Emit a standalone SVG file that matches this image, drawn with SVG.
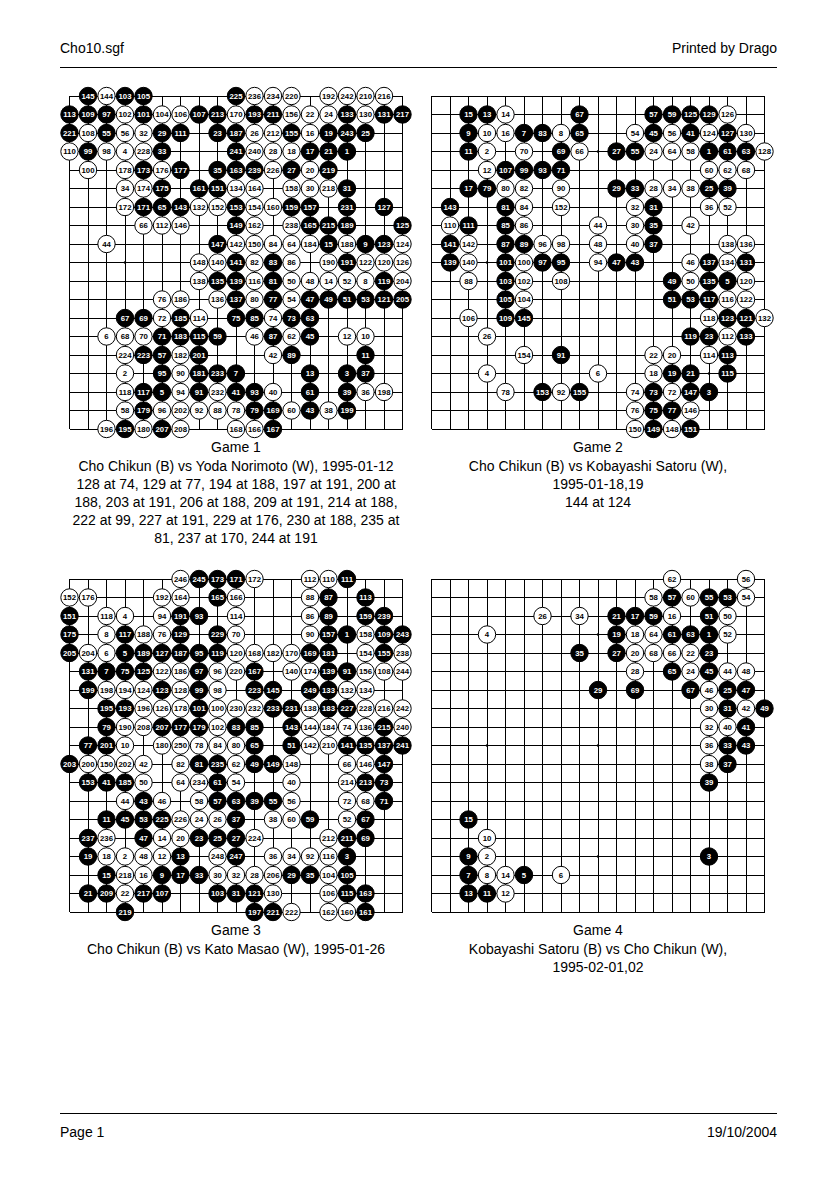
<svg xmlns="http://www.w3.org/2000/svg" width="837" height="1181" viewBox="0 0 837 1181">
<style>
.t{font-family:"Liberation Sans",Arial,sans-serif;font-size:14px;fill:#000}
.m{text-anchor:middle}
.e{text-anchor:end}
.rule{stroke:#000;stroke-width:1;shape-rendering:crispEdges}
.g{fill:none;stroke:#000;stroke-width:1;shape-rendering:crispEdges}
.hs{fill:#000}
.st circle{stroke:#000;stroke-width:1}
.st circle.w{fill:#fff}
.st circle.k{fill:#000}
.st text{font-family:"Liberation Sans",Arial,sans-serif;font-size:7.8px;font-weight:bold;text-anchor:middle;dominant-baseline:central;fill:#000}
.st .k+text{fill:#fff}
</style>
<defs>
<path id="grid" class="g" d="M0 0V333M18.5 0V333M37 0V333M55.5 0V333M74 0V333M92.5 0V333M111 0V333M129.5 0V333M148 0V333M166.5 0V333M185 0V333M203.5 0V333M222 0V333M240.5 0V333M259 0V333M277.5 0V333M296 0V333M314.5 0V333M333 0V333M0 0H333M0 18.5H333M0 37H333M0 55.5H333M0 74H333M0 92.5H333M0 111H333M0 129.5H333M0 148H333M0 166.5H333M0 185H333M0 203.5H333M0 222H333M0 240.5H333M0 259H333M0 277.5H333M0 296H333M0 314.5H333M0 333H333"/>
<g id="hoshi" class="hs"><circle cx="55.5" cy="55.5" r="1.3"/><circle cx="166.5" cy="55.5" r="1.3"/><circle cx="277.5" cy="55.5" r="1.3"/><circle cx="55.5" cy="166.5" r="1.3"/><circle cx="166.5" cy="166.5" r="1.3"/><circle cx="277.5" cy="166.5" r="1.3"/><circle cx="55.5" cy="277.5" r="1.3"/><circle cx="166.5" cy="277.5" r="1.3"/><circle cx="277.5" cy="277.5" r="1.3"/></g>
</defs>

<g id="header">
<text class="t" x="60" y="53">Cho10.sgf</text>
<text class="t e" x="777" y="53">Printed by Drago</text>
<line class="rule" x1="60" y1="67.5" x2="777" y2="67.5"/>
</g>

<g id="game1" transform="translate(69.5,96)">
<use href="#grid"/><use href="#hoshi"/>
<g class="st">
<g transform="translate(0,0)"><circle class="k" cx="18.5" r="8.7"/><text x="18.5">145</text><circle class="w" cx="37" r="8.7"/><text x="37">144</text><circle class="k" cx="55.5" r="8.7"/><text x="55.5">103</text><circle class="k" cx="74" r="8.7"/><text x="74">105</text><circle class="k" cx="166.5" r="8.7"/><text x="166.5">225</text><circle class="w" cx="185" r="8.7"/><text x="185">236</text><circle class="w" cx="203.5" r="8.7"/><text x="203.5">234</text><circle class="w" cx="222" r="8.7"/><text x="222">220</text><circle class="w" cx="259" r="8.7"/><text x="259">192</text><circle class="w" cx="277.5" r="8.7"/><text x="277.5">242</text><circle class="w" cx="296" r="8.7"/><text x="296">210</text><circle class="w" cx="314.5" r="8.7"/><text x="314.5">216</text></g>
<g transform="translate(0,18.5)"><circle class="k" cx="0" r="8.7"/><text x="0">113</text><circle class="k" cx="18.5" r="8.7"/><text x="18.5">109</text><circle class="k" cx="37" r="8.7"/><text x="37">97</text><circle class="w" cx="55.5" r="8.7"/><text x="55.5">102</text><circle class="k" cx="74" r="8.7"/><text x="74">101</text><circle class="w" cx="92.5" r="8.7"/><text x="92.5">104</text><circle class="w" cx="111" r="8.7"/><text x="111">106</text><circle class="k" cx="129.5" r="8.7"/><text x="129.5">107</text><circle class="k" cx="148" r="8.7"/><text x="148">213</text><circle class="w" cx="166.5" r="8.7"/><text x="166.5">170</text><circle class="k" cx="185" r="8.7"/><text x="185">193</text><circle class="k" cx="203.5" r="8.7"/><text x="203.5">211</text><circle class="w" cx="222" r="8.7"/><text x="222">156</text><circle class="w" cx="240.5" r="8.7"/><text x="240.5">22</text><circle class="w" cx="259" r="8.7"/><text x="259">24</text><circle class="k" cx="277.5" r="8.7"/><text x="277.5">133</text><circle class="w" cx="296" r="8.7"/><text x="296">130</text><circle class="k" cx="314.5" r="8.7"/><text x="314.5">131</text><circle class="k" cx="333" r="8.7"/><text x="333">217</text></g>
<g transform="translate(0,37)"><circle class="k" cx="0" r="8.7"/><text x="0">221</text><circle class="w" cx="18.5" r="8.7"/><text x="18.5">108</text><circle class="k" cx="37" r="8.7"/><text x="37">55</text><circle class="w" cx="55.5" r="8.7"/><text x="55.5">56</text><circle class="w" cx="74" r="8.7"/><text x="74">32</text><circle class="k" cx="92.5" r="8.7"/><text x="92.5">29</text><circle class="k" cx="111" r="8.7"/><text x="111">111</text><circle class="k" cx="148" r="8.7"/><text x="148">23</text><circle class="k" cx="166.5" r="8.7"/><text x="166.5">187</text><circle class="w" cx="185" r="8.7"/><text x="185">26</text><circle class="w" cx="203.5" r="8.7"/><text x="203.5">212</text><circle class="k" cx="222" r="8.7"/><text x="222">155</text><circle class="w" cx="240.5" r="8.7"/><text x="240.5">16</text><circle class="k" cx="259" r="8.7"/><text x="259">19</text><circle class="k" cx="277.5" r="8.7"/><text x="277.5">243</text><circle class="k" cx="296" r="8.7"/><text x="296">25</text></g>
<g transform="translate(0,55.5)"><circle class="w" cx="0" r="8.7"/><text x="0">110</text><circle class="k" cx="18.5" r="8.7"/><text x="18.5">99</text><circle class="w" cx="37" r="8.7"/><text x="37">98</text><circle class="w" cx="55.5" r="8.7"/><text x="55.5">4</text><circle class="w" cx="74" r="8.7"/><text x="74">228</text><circle class="k" cx="92.5" r="8.7"/><text x="92.5">33</text><circle class="k" cx="166.5" r="8.7"/><text x="166.5">241</text><circle class="w" cx="185" r="8.7"/><text x="185">240</text><circle class="w" cx="203.5" r="8.7"/><text x="203.5">28</text><circle class="w" cx="222" r="8.7"/><text x="222">18</text><circle class="k" cx="240.5" r="8.7"/><text x="240.5">17</text><circle class="k" cx="259" r="8.7"/><text x="259">21</text><circle class="k" cx="277.5" r="8.7"/><text x="277.5">1</text></g>
<g transform="translate(0,74)"><circle class="w" cx="18.5" r="8.7"/><text x="18.5">100</text><circle class="w" cx="55.5" r="8.7"/><text x="55.5">178</text><circle class="k" cx="74" r="8.7"/><text x="74">173</text><circle class="w" cx="92.5" r="8.7"/><text x="92.5">176</text><circle class="k" cx="111" r="8.7"/><text x="111">177</text><circle class="k" cx="148" r="8.7"/><text x="148">35</text><circle class="k" cx="166.5" r="8.7"/><text x="166.5">163</text><circle class="k" cx="185" r="8.7"/><text x="185">239</text><circle class="w" cx="203.5" r="8.7"/><text x="203.5">226</text><circle class="k" cx="222" r="8.7"/><text x="222">27</text><circle class="w" cx="240.5" r="8.7"/><text x="240.5">20</text><circle class="k" cx="259" r="8.7"/><text x="259">219</text></g>
<g transform="translate(0,92.5)"><circle class="w" cx="55.5" r="8.7"/><text x="55.5">34</text><circle class="w" cx="74" r="8.7"/><text x="74">174</text><circle class="k" cx="92.5" r="8.7"/><text x="92.5">175</text><circle class="k" cx="129.5" r="8.7"/><text x="129.5">161</text><circle class="k" cx="148" r="8.7"/><text x="148">151</text><circle class="w" cx="166.5" r="8.7"/><text x="166.5">134</text><circle class="w" cx="185" r="8.7"/><text x="185">164</text><circle class="w" cx="222" r="8.7"/><text x="222">158</text><circle class="w" cx="240.5" r="8.7"/><text x="240.5">30</text><circle class="w" cx="259" r="8.7"/><text x="259">218</text><circle class="k" cx="277.5" r="8.7"/><text x="277.5">31</text></g>
<g transform="translate(0,111)"><circle class="w" cx="55.5" r="8.7"/><text x="55.5">172</text><circle class="k" cx="74" r="8.7"/><text x="74">171</text><circle class="k" cx="92.5" r="8.7"/><text x="92.5">65</text><circle class="k" cx="111" r="8.7"/><text x="111">143</text><circle class="w" cx="129.5" r="8.7"/><text x="129.5">132</text><circle class="w" cx="148" r="8.7"/><text x="148">152</text><circle class="k" cx="166.5" r="8.7"/><text x="166.5">153</text><circle class="w" cx="185" r="8.7"/><text x="185">154</text><circle class="w" cx="203.5" r="8.7"/><text x="203.5">160</text><circle class="k" cx="222" r="8.7"/><text x="222">159</text><circle class="k" cx="240.5" r="8.7"/><text x="240.5">157</text><circle class="k" cx="277.5" r="8.7"/><text x="277.5">231</text><circle class="k" cx="314.5" r="8.7"/><text x="314.5">127</text></g>
<g transform="translate(0,129.5)"><circle class="w" cx="74" r="8.7"/><text x="74">66</text><circle class="w" cx="92.5" r="8.7"/><text x="92.5">112</text><circle class="w" cx="111" r="8.7"/><text x="111">146</text><circle class="k" cx="166.5" r="8.7"/><text x="166.5">149</text><circle class="w" cx="185" r="8.7"/><text x="185">162</text><circle class="w" cx="222" r="8.7"/><text x="222">238</text><circle class="k" cx="240.5" r="8.7"/><text x="240.5">165</text><circle class="k" cx="259" r="8.7"/><text x="259">215</text><circle class="k" cx="277.5" r="8.7"/><text x="277.5">189</text><circle class="k" cx="333" r="8.7"/><text x="333">125</text></g>
<g transform="translate(0,148)"><circle class="w" cx="37" r="8.7"/><text x="37">44</text><circle class="k" cx="148" r="8.7"/><text x="148">147</text><circle class="w" cx="166.5" r="8.7"/><text x="166.5">142</text><circle class="w" cx="185" r="8.7"/><text x="185">150</text><circle class="w" cx="203.5" r="8.7"/><text x="203.5">84</text><circle class="w" cx="222" r="8.7"/><text x="222">64</text><circle class="w" cx="240.5" r="8.7"/><text x="240.5">184</text><circle class="k" cx="259" r="8.7"/><text x="259">15</text><circle class="w" cx="277.5" r="8.7"/><text x="277.5">188</text><circle class="k" cx="296" r="8.7"/><text x="296">9</text><circle class="k" cx="314.5" r="8.7"/><text x="314.5">123</text><circle class="w" cx="333" r="8.7"/><text x="333">124</text></g>
<g transform="translate(0,166.5)"><circle class="w" cx="129.5" r="8.7"/><text x="129.5">148</text><circle class="w" cx="148" r="8.7"/><text x="148">140</text><circle class="k" cx="166.5" r="8.7"/><text x="166.5">141</text><circle class="w" cx="185" r="8.7"/><text x="185">82</text><circle class="k" cx="203.5" r="8.7"/><text x="203.5">83</text><circle class="w" cx="222" r="8.7"/><text x="222">86</text><circle class="w" cx="259" r="8.7"/><text x="259">190</text><circle class="k" cx="277.5" r="8.7"/><text x="277.5">191</text><circle class="w" cx="296" r="8.7"/><text x="296">122</text><circle class="w" cx="314.5" r="8.7"/><text x="314.5">120</text><circle class="w" cx="333" r="8.7"/><text x="333">126</text></g>
<g transform="translate(0,185)"><circle class="w" cx="129.5" r="8.7"/><text x="129.5">138</text><circle class="k" cx="148" r="8.7"/><text x="148">135</text><circle class="k" cx="166.5" r="8.7"/><text x="166.5">139</text><circle class="w" cx="185" r="8.7"/><text x="185">116</text><circle class="k" cx="203.5" r="8.7"/><text x="203.5">81</text><circle class="w" cx="222" r="8.7"/><text x="222">50</text><circle class="w" cx="240.5" r="8.7"/><text x="240.5">48</text><circle class="w" cx="259" r="8.7"/><text x="259">14</text><circle class="w" cx="277.5" r="8.7"/><text x="277.5">52</text><circle class="w" cx="296" r="8.7"/><text x="296">8</text><circle class="k" cx="314.5" r="8.7"/><text x="314.5">119</text><circle class="w" cx="333" r="8.7"/><text x="333">204</text></g>
<g transform="translate(0,203.5)"><circle class="w" cx="92.5" r="8.7"/><text x="92.5">76</text><circle class="w" cx="111" r="8.7"/><text x="111">186</text><circle class="w" cx="148" r="8.7"/><text x="148">136</text><circle class="k" cx="166.5" r="8.7"/><text x="166.5">137</text><circle class="w" cx="185" r="8.7"/><text x="185">80</text><circle class="k" cx="203.5" r="8.7"/><text x="203.5">77</text><circle class="w" cx="222" r="8.7"/><text x="222">54</text><circle class="k" cx="240.5" r="8.7"/><text x="240.5">47</text><circle class="k" cx="259" r="8.7"/><text x="259">49</text><circle class="k" cx="277.5" r="8.7"/><text x="277.5">51</text><circle class="k" cx="296" r="8.7"/><text x="296">53</text><circle class="k" cx="314.5" r="8.7"/><text x="314.5">121</text><circle class="k" cx="333" r="8.7"/><text x="333">205</text></g>
<g transform="translate(0,222)"><circle class="k" cx="55.5" r="8.7"/><text x="55.5">67</text><circle class="k" cx="74" r="8.7"/><text x="74">69</text><circle class="w" cx="92.5" r="8.7"/><text x="92.5">72</text><circle class="k" cx="111" r="8.7"/><text x="111">185</text><circle class="w" cx="129.5" r="8.7"/><text x="129.5">114</text><circle class="k" cx="166.5" r="8.7"/><text x="166.5">75</text><circle class="k" cx="185" r="8.7"/><text x="185">85</text><circle class="w" cx="203.5" r="8.7"/><text x="203.5">74</text><circle class="k" cx="222" r="8.7"/><text x="222">73</text><circle class="k" cx="240.5" r="8.7"/><text x="240.5">63</text></g>
<g transform="translate(0,240.5)"><circle class="w" cx="37" r="8.7"/><text x="37">6</text><circle class="w" cx="55.5" r="8.7"/><text x="55.5">68</text><circle class="w" cx="74" r="8.7"/><text x="74">70</text><circle class="k" cx="92.5" r="8.7"/><text x="92.5">71</text><circle class="k" cx="111" r="8.7"/><text x="111">183</text><circle class="k" cx="129.5" r="8.7"/><text x="129.5">115</text><circle class="k" cx="148" r="8.7"/><text x="148">59</text><circle class="w" cx="185" r="8.7"/><text x="185">46</text><circle class="k" cx="203.5" r="8.7"/><text x="203.5">87</text><circle class="w" cx="222" r="8.7"/><text x="222">62</text><circle class="k" cx="240.5" r="8.7"/><text x="240.5">45</text><circle class="w" cx="277.5" r="8.7"/><text x="277.5">12</text><circle class="w" cx="296" r="8.7"/><text x="296">10</text></g>
<g transform="translate(0,259)"><circle class="w" cx="55.5" r="8.7"/><text x="55.5">224</text><circle class="k" cx="74" r="8.7"/><text x="74">223</text><circle class="k" cx="92.5" r="8.7"/><text x="92.5">57</text><circle class="w" cx="111" r="8.7"/><text x="111">182</text><circle class="k" cx="129.5" r="8.7"/><text x="129.5">201</text><circle class="w" cx="203.5" r="8.7"/><text x="203.5">42</text><circle class="k" cx="222" r="8.7"/><text x="222">89</text><circle class="k" cx="296" r="8.7"/><text x="296">11</text></g>
<g transform="translate(0,277.5)"><circle class="w" cx="55.5" r="8.7"/><text x="55.5">2</text><circle class="k" cx="92.5" r="8.7"/><text x="92.5">95</text><circle class="w" cx="111" r="8.7"/><text x="111">90</text><circle class="k" cx="129.5" r="8.7"/><text x="129.5">181</text><circle class="k" cx="148" r="8.7"/><text x="148">233</text><circle class="k" cx="166.5" r="8.7"/><text x="166.5">7</text><circle class="k" cx="240.5" r="8.7"/><text x="240.5">13</text><circle class="k" cx="277.5" r="8.7"/><text x="277.5">3</text><circle class="k" cx="296" r="8.7"/><text x="296">37</text></g>
<g transform="translate(0,296)"><circle class="w" cx="55.5" r="8.7"/><text x="55.5">118</text><circle class="k" cx="74" r="8.7"/><text x="74">117</text><circle class="k" cx="92.5" r="8.7"/><text x="92.5">5</text><circle class="w" cx="111" r="8.7"/><text x="111">94</text><circle class="k" cx="129.5" r="8.7"/><text x="129.5">91</text><circle class="w" cx="148" r="8.7"/><text x="148">232</text><circle class="k" cx="166.5" r="8.7"/><text x="166.5">41</text><circle class="k" cx="185" r="8.7"/><text x="185">93</text><circle class="w" cx="203.5" r="8.7"/><text x="203.5">40</text><circle class="k" cx="240.5" r="8.7"/><text x="240.5">61</text><circle class="k" cx="277.5" r="8.7"/><text x="277.5">39</text><circle class="w" cx="296" r="8.7"/><text x="296">36</text><circle class="w" cx="314.5" r="8.7"/><text x="314.5">198</text></g>
<g transform="translate(0,314.5)"><circle class="w" cx="55.5" r="8.7"/><text x="55.5">58</text><circle class="k" cx="74" r="8.7"/><text x="74">179</text><circle class="w" cx="92.5" r="8.7"/><text x="92.5">96</text><circle class="w" cx="111" r="8.7"/><text x="111">202</text><circle class="w" cx="129.5" r="8.7"/><text x="129.5">92</text><circle class="w" cx="148" r="8.7"/><text x="148">88</text><circle class="w" cx="166.5" r="8.7"/><text x="166.5">78</text><circle class="k" cx="185" r="8.7"/><text x="185">79</text><circle class="k" cx="203.5" r="8.7"/><text x="203.5">169</text><circle class="w" cx="222" r="8.7"/><text x="222">60</text><circle class="k" cx="240.5" r="8.7"/><text x="240.5">43</text><circle class="w" cx="259" r="8.7"/><text x="259">38</text><circle class="k" cx="277.5" r="8.7"/><text x="277.5">199</text></g>
<g transform="translate(0,333)"><circle class="w" cx="37" r="8.7"/><text x="37">196</text><circle class="k" cx="55.5" r="8.7"/><text x="55.5">195</text><circle class="w" cx="74" r="8.7"/><text x="74">180</text><circle class="k" cx="92.5" r="8.7"/><text x="92.5">207</text><circle class="w" cx="111" r="8.7"/><text x="111">208</text><circle class="w" cx="166.5" r="8.7"/><text x="166.5">168</text><circle class="w" cx="185" r="8.7"/><text x="185">166</text><circle class="k" cx="203.5" r="8.7"/><text x="203.5">167</text></g>
</g>
</g>

<g id="game2" transform="translate(431.5,96)">
<use href="#grid"/><use href="#hoshi"/>
<g class="st">
<g transform="translate(0,18.5)"><circle class="k" cx="37" r="8.7"/><text x="37">15</text><circle class="k" cx="55.5" r="8.7"/><text x="55.5">13</text><circle class="w" cx="74" r="8.7"/><text x="74">14</text><circle class="k" cx="148" r="8.7"/><text x="148">67</text><circle class="k" cx="222" r="8.7"/><text x="222">57</text><circle class="k" cx="240.5" r="8.7"/><text x="240.5">59</text><circle class="k" cx="259" r="8.7"/><text x="259">125</text><circle class="k" cx="277.5" r="8.7"/><text x="277.5">129</text><circle class="w" cx="296" r="8.7"/><text x="296">126</text></g>
<g transform="translate(0,37)"><circle class="k" cx="37" r="8.7"/><text x="37">9</text><circle class="w" cx="55.5" r="8.7"/><text x="55.5">10</text><circle class="w" cx="74" r="8.7"/><text x="74">16</text><circle class="k" cx="92.5" r="8.7"/><text x="92.5">7</text><circle class="k" cx="111" r="8.7"/><text x="111">83</text><circle class="w" cx="129.5" r="8.7"/><text x="129.5">8</text><circle class="k" cx="148" r="8.7"/><text x="148">65</text><circle class="w" cx="203.5" r="8.7"/><text x="203.5">54</text><circle class="k" cx="222" r="8.7"/><text x="222">45</text><circle class="w" cx="240.5" r="8.7"/><text x="240.5">56</text><circle class="k" cx="259" r="8.7"/><text x="259">41</text><circle class="w" cx="277.5" r="8.7"/><text x="277.5">124</text><circle class="k" cx="296" r="8.7"/><text x="296">127</text><circle class="w" cx="314.5" r="8.7"/><text x="314.5">130</text></g>
<g transform="translate(0,55.5)"><circle class="k" cx="37" r="8.7"/><text x="37">11</text><circle class="w" cx="55.5" r="8.7"/><text x="55.5">2</text><circle class="w" cx="92.5" r="8.7"/><text x="92.5">70</text><circle class="k" cx="129.5" r="8.7"/><text x="129.5">69</text><circle class="w" cx="148" r="8.7"/><text x="148">66</text><circle class="k" cx="185" r="8.7"/><text x="185">27</text><circle class="k" cx="203.5" r="8.7"/><text x="203.5">55</text><circle class="w" cx="222" r="8.7"/><text x="222">24</text><circle class="w" cx="240.5" r="8.7"/><text x="240.5">64</text><circle class="w" cx="259" r="8.7"/><text x="259">58</text><circle class="k" cx="277.5" r="8.7"/><text x="277.5">1</text><circle class="k" cx="296" r="8.7"/><text x="296">61</text><circle class="k" cx="314.5" r="8.7"/><text x="314.5">63</text><circle class="w" cx="333" r="8.7"/><text x="333">128</text></g>
<g transform="translate(0,74)"><circle class="w" cx="55.5" r="8.7"/><text x="55.5">12</text><circle class="k" cx="74" r="8.7"/><text x="74">107</text><circle class="k" cx="92.5" r="8.7"/><text x="92.5">99</text><circle class="k" cx="111" r="8.7"/><text x="111">93</text><circle class="k" cx="129.5" r="8.7"/><text x="129.5">71</text><circle class="w" cx="277.5" r="8.7"/><text x="277.5">60</text><circle class="w" cx="296" r="8.7"/><text x="296">62</text><circle class="w" cx="314.5" r="8.7"/><text x="314.5">68</text></g>
<g transform="translate(0,92.5)"><circle class="k" cx="37" r="8.7"/><text x="37">17</text><circle class="k" cx="55.5" r="8.7"/><text x="55.5">79</text><circle class="w" cx="74" r="8.7"/><text x="74">80</text><circle class="w" cx="92.5" r="8.7"/><text x="92.5">82</text><circle class="w" cx="129.5" r="8.7"/><text x="129.5">90</text><circle class="k" cx="185" r="8.7"/><text x="185">29</text><circle class="k" cx="203.5" r="8.7"/><text x="203.5">33</text><circle class="w" cx="222" r="8.7"/><text x="222">28</text><circle class="w" cx="240.5" r="8.7"/><text x="240.5">34</text><circle class="w" cx="259" r="8.7"/><text x="259">38</text><circle class="k" cx="277.5" r="8.7"/><text x="277.5">25</text><circle class="k" cx="296" r="8.7"/><text x="296">39</text></g>
<g transform="translate(0,111)"><circle class="k" cx="18.5" r="8.7"/><text x="18.5">143</text><circle class="k" cx="74" r="8.7"/><text x="74">81</text><circle class="w" cx="92.5" r="8.7"/><text x="92.5">84</text><circle class="w" cx="129.5" r="8.7"/><text x="129.5">152</text><circle class="w" cx="203.5" r="8.7"/><text x="203.5">32</text><circle class="k" cx="222" r="8.7"/><text x="222">31</text><circle class="w" cx="277.5" r="8.7"/><text x="277.5">36</text><circle class="w" cx="296" r="8.7"/><text x="296">52</text></g>
<g transform="translate(0,129.5)"><circle class="w" cx="18.5" r="8.7"/><text x="18.5">110</text><circle class="k" cx="37" r="8.7"/><text x="37">111</text><circle class="k" cx="74" r="8.7"/><text x="74">85</text><circle class="w" cx="92.5" r="8.7"/><text x="92.5">86</text><circle class="w" cx="166.5" r="8.7"/><text x="166.5">44</text><circle class="w" cx="203.5" r="8.7"/><text x="203.5">30</text><circle class="k" cx="222" r="8.7"/><text x="222">35</text><circle class="w" cx="259" r="8.7"/><text x="259">42</text></g>
<g transform="translate(0,148)"><circle class="k" cx="18.5" r="8.7"/><text x="18.5">141</text><circle class="w" cx="37" r="8.7"/><text x="37">142</text><circle class="k" cx="74" r="8.7"/><text x="74">87</text><circle class="k" cx="92.5" r="8.7"/><text x="92.5">89</text><circle class="w" cx="111" r="8.7"/><text x="111">96</text><circle class="w" cx="129.5" r="8.7"/><text x="129.5">98</text><circle class="w" cx="166.5" r="8.7"/><text x="166.5">48</text><circle class="w" cx="203.5" r="8.7"/><text x="203.5">40</text><circle class="k" cx="222" r="8.7"/><text x="222">37</text><circle class="w" cx="296" r="8.7"/><text x="296">138</text><circle class="w" cx="314.5" r="8.7"/><text x="314.5">136</text></g>
<g transform="translate(0,166.5)"><circle class="k" cx="18.5" r="8.7"/><text x="18.5">139</text><circle class="w" cx="37" r="8.7"/><text x="37">140</text><circle class="k" cx="74" r="8.7"/><text x="74">101</text><circle class="w" cx="92.5" r="8.7"/><text x="92.5">100</text><circle class="k" cx="111" r="8.7"/><text x="111">97</text><circle class="k" cx="129.5" r="8.7"/><text x="129.5">95</text><circle class="w" cx="166.5" r="8.7"/><text x="166.5">94</text><circle class="k" cx="185" r="8.7"/><text x="185">47</text><circle class="k" cx="203.5" r="8.7"/><text x="203.5">43</text><circle class="w" cx="259" r="8.7"/><text x="259">46</text><circle class="k" cx="277.5" r="8.7"/><text x="277.5">137</text><circle class="w" cx="296" r="8.7"/><text x="296">134</text><circle class="k" cx="314.5" r="8.7"/><text x="314.5">131</text></g>
<g transform="translate(0,185)"><circle class="w" cx="37" r="8.7"/><text x="37">88</text><circle class="k" cx="74" r="8.7"/><text x="74">103</text><circle class="w" cx="92.5" r="8.7"/><text x="92.5">102</text><circle class="w" cx="129.5" r="8.7"/><text x="129.5">108</text><circle class="k" cx="240.5" r="8.7"/><text x="240.5">49</text><circle class="w" cx="259" r="8.7"/><text x="259">50</text><circle class="k" cx="277.5" r="8.7"/><text x="277.5">135</text><circle class="k" cx="296" r="8.7"/><text x="296">5</text><circle class="w" cx="314.5" r="8.7"/><text x="314.5">120</text></g>
<g transform="translate(0,203.5)"><circle class="k" cx="74" r="8.7"/><text x="74">105</text><circle class="w" cx="92.5" r="8.7"/><text x="92.5">104</text><circle class="k" cx="240.5" r="8.7"/><text x="240.5">51</text><circle class="k" cx="259" r="8.7"/><text x="259">53</text><circle class="k" cx="277.5" r="8.7"/><text x="277.5">117</text><circle class="w" cx="296" r="8.7"/><text x="296">116</text><circle class="w" cx="314.5" r="8.7"/><text x="314.5">122</text></g>
<g transform="translate(0,222)"><circle class="w" cx="37" r="8.7"/><text x="37">106</text><circle class="k" cx="74" r="8.7"/><text x="74">109</text><circle class="k" cx="92.5" r="8.7"/><text x="92.5">145</text><circle class="w" cx="277.5" r="8.7"/><text x="277.5">118</text><circle class="k" cx="296" r="8.7"/><text x="296">123</text><circle class="k" cx="314.5" r="8.7"/><text x="314.5">121</text><circle class="w" cx="333" r="8.7"/><text x="333">132</text></g>
<g transform="translate(0,240.5)"><circle class="w" cx="55.5" r="8.7"/><text x="55.5">26</text><circle class="k" cx="259" r="8.7"/><text x="259">119</text><circle class="k" cx="277.5" r="8.7"/><text x="277.5">23</text><circle class="w" cx="296" r="8.7"/><text x="296">112</text><circle class="k" cx="314.5" r="8.7"/><text x="314.5">133</text></g>
<g transform="translate(0,259)"><circle class="w" cx="92.5" r="8.7"/><text x="92.5">154</text><circle class="k" cx="129.5" r="8.7"/><text x="129.5">91</text><circle class="w" cx="222" r="8.7"/><text x="222">22</text><circle class="w" cx="240.5" r="8.7"/><text x="240.5">20</text><circle class="w" cx="277.5" r="8.7"/><text x="277.5">114</text><circle class="k" cx="296" r="8.7"/><text x="296">113</text></g>
<g transform="translate(0,277.5)"><circle class="w" cx="55.5" r="8.7"/><text x="55.5">4</text><circle class="w" cx="166.5" r="8.7"/><text x="166.5">6</text><circle class="w" cx="222" r="8.7"/><text x="222">18</text><circle class="k" cx="240.5" r="8.7"/><text x="240.5">19</text><circle class="k" cx="259" r="8.7"/><text x="259">21</text><circle class="k" cx="296" r="8.7"/><text x="296">115</text></g>
<g transform="translate(0,296)"><circle class="w" cx="74" r="8.7"/><text x="74">78</text><circle class="k" cx="111" r="8.7"/><text x="111">153</text><circle class="w" cx="129.5" r="8.7"/><text x="129.5">92</text><circle class="k" cx="148" r="8.7"/><text x="148">155</text><circle class="w" cx="203.5" r="8.7"/><text x="203.5">74</text><circle class="k" cx="222" r="8.7"/><text x="222">73</text><circle class="w" cx="240.5" r="8.7"/><text x="240.5">72</text><circle class="k" cx="259" r="8.7"/><text x="259">147</text><circle class="k" cx="277.5" r="8.7"/><text x="277.5">3</text></g>
<g transform="translate(0,314.5)"><circle class="w" cx="203.5" r="8.7"/><text x="203.5">76</text><circle class="k" cx="222" r="8.7"/><text x="222">75</text><circle class="k" cx="240.5" r="8.7"/><text x="240.5">77</text><circle class="w" cx="259" r="8.7"/><text x="259">146</text></g>
<g transform="translate(0,333)"><circle class="w" cx="203.5" r="8.7"/><text x="203.5">150</text><circle class="k" cx="222" r="8.7"/><text x="222">149</text><circle class="w" cx="240.5" r="8.7"/><text x="240.5">148</text><circle class="k" cx="259" r="8.7"/><text x="259">151</text></g>
</g>
</g>

<g id="game3" transform="translate(69.5,579)">
<use href="#grid"/><use href="#hoshi"/>
<g class="st">
<g transform="translate(0,0)"><circle class="w" cx="111" r="8.7"/><text x="111">246</text><circle class="k" cx="129.5" r="8.7"/><text x="129.5">245</text><circle class="k" cx="148" r="8.7"/><text x="148">173</text><circle class="k" cx="166.5" r="8.7"/><text x="166.5">171</text><circle class="w" cx="185" r="8.7"/><text x="185">172</text><circle class="w" cx="240.5" r="8.7"/><text x="240.5">112</text><circle class="w" cx="259" r="8.7"/><text x="259">110</text><circle class="k" cx="277.5" r="8.7"/><text x="277.5">111</text></g>
<g transform="translate(0,18.5)"><circle class="w" cx="0" r="8.7"/><text x="0">152</text><circle class="w" cx="18.5" r="8.7"/><text x="18.5">176</text><circle class="w" cx="92.5" r="8.7"/><text x="92.5">192</text><circle class="w" cx="111" r="8.7"/><text x="111">164</text><circle class="k" cx="148" r="8.7"/><text x="148">165</text><circle class="w" cx="166.5" r="8.7"/><text x="166.5">166</text><circle class="w" cx="240.5" r="8.7"/><text x="240.5">88</text><circle class="k" cx="259" r="8.7"/><text x="259">87</text><circle class="k" cx="296" r="8.7"/><text x="296">113</text></g>
<g transform="translate(0,37)"><circle class="k" cx="0" r="8.7"/><text x="0">151</text><circle class="w" cx="37" r="8.7"/><text x="37">118</text><circle class="w" cx="55.5" r="8.7"/><text x="55.5">4</text><circle class="w" cx="92.5" r="8.7"/><text x="92.5">94</text><circle class="k" cx="111" r="8.7"/><text x="111">191</text><circle class="k" cx="129.5" r="8.7"/><text x="129.5">93</text><circle class="w" cx="166.5" r="8.7"/><text x="166.5">114</text><circle class="w" cx="240.5" r="8.7"/><text x="240.5">86</text><circle class="k" cx="259" r="8.7"/><text x="259">89</text><circle class="k" cx="296" r="8.7"/><text x="296">159</text><circle class="k" cx="314.5" r="8.7"/><text x="314.5">239</text></g>
<g transform="translate(0,55.5)"><circle class="k" cx="0" r="8.7"/><text x="0">175</text><circle class="w" cx="37" r="8.7"/><text x="37">8</text><circle class="k" cx="55.5" r="8.7"/><text x="55.5">117</text><circle class="w" cx="74" r="8.7"/><text x="74">188</text><circle class="w" cx="92.5" r="8.7"/><text x="92.5">76</text><circle class="k" cx="111" r="8.7"/><text x="111">129</text><circle class="k" cx="148" r="8.7"/><text x="148">229</text><circle class="w" cx="166.5" r="8.7"/><text x="166.5">70</text><circle class="w" cx="240.5" r="8.7"/><text x="240.5">90</text><circle class="k" cx="259" r="8.7"/><text x="259">157</text><circle class="k" cx="277.5" r="8.7"/><text x="277.5">1</text><circle class="w" cx="296" r="8.7"/><text x="296">158</text><circle class="k" cx="314.5" r="8.7"/><text x="314.5">109</text><circle class="k" cx="333" r="8.7"/><text x="333">243</text></g>
<g transform="translate(0,74)"><circle class="k" cx="0" r="8.7"/><text x="0">205</text><circle class="w" cx="18.5" r="8.7"/><text x="18.5">204</text><circle class="w" cx="37" r="8.7"/><text x="37">6</text><circle class="k" cx="55.5" r="8.7"/><text x="55.5">5</text><circle class="k" cx="74" r="8.7"/><text x="74">189</text><circle class="k" cx="92.5" r="8.7"/><text x="92.5">127</text><circle class="k" cx="111" r="8.7"/><text x="111">187</text><circle class="k" cx="129.5" r="8.7"/><text x="129.5">95</text><circle class="k" cx="148" r="8.7"/><text x="148">119</text><circle class="w" cx="166.5" r="8.7"/><text x="166.5">120</text><circle class="w" cx="185" r="8.7"/><text x="185">168</text><circle class="w" cx="203.5" r="8.7"/><text x="203.5">182</text><circle class="w" cx="222" r="8.7"/><text x="222">170</text><circle class="k" cx="240.5" r="8.7"/><text x="240.5">169</text><circle class="k" cx="259" r="8.7"/><text x="259">181</text><circle class="w" cx="296" r="8.7"/><text x="296">154</text><circle class="k" cx="314.5" r="8.7"/><text x="314.5">155</text><circle class="w" cx="333" r="8.7"/><text x="333">238</text></g>
<g transform="translate(0,92.5)"><circle class="k" cx="18.5" r="8.7"/><text x="18.5">131</text><circle class="k" cx="37" r="8.7"/><text x="37">7</text><circle class="k" cx="55.5" r="8.7"/><text x="55.5">75</text><circle class="k" cx="74" r="8.7"/><text x="74">125</text><circle class="w" cx="92.5" r="8.7"/><text x="92.5">122</text><circle class="w" cx="111" r="8.7"/><text x="111">186</text><circle class="k" cx="129.5" r="8.7"/><text x="129.5">97</text><circle class="w" cx="148" r="8.7"/><text x="148">96</text><circle class="w" cx="166.5" r="8.7"/><text x="166.5">220</text><circle class="k" cx="185" r="8.7"/><text x="185">167</text><circle class="w" cx="222" r="8.7"/><text x="222">140</text><circle class="w" cx="240.5" r="8.7"/><text x="240.5">174</text><circle class="k" cx="259" r="8.7"/><text x="259">139</text><circle class="k" cx="277.5" r="8.7"/><text x="277.5">91</text><circle class="w" cx="296" r="8.7"/><text x="296">156</text><circle class="w" cx="314.5" r="8.7"/><text x="314.5">108</text><circle class="w" cx="333" r="8.7"/><text x="333">244</text></g>
<g transform="translate(0,111)"><circle class="k" cx="18.5" r="8.7"/><text x="18.5">199</text><circle class="w" cx="37" r="8.7"/><text x="37">198</text><circle class="w" cx="55.5" r="8.7"/><text x="55.5">194</text><circle class="w" cx="74" r="8.7"/><text x="74">124</text><circle class="k" cx="92.5" r="8.7"/><text x="92.5">123</text><circle class="w" cx="111" r="8.7"/><text x="111">128</text><circle class="k" cx="129.5" r="8.7"/><text x="129.5">99</text><circle class="w" cx="148" r="8.7"/><text x="148">98</text><circle class="k" cx="185" r="8.7"/><text x="185">223</text><circle class="k" cx="203.5" r="8.7"/><text x="203.5">145</text><circle class="k" cx="240.5" r="8.7"/><text x="240.5">249</text><circle class="k" cx="259" r="8.7"/><text x="259">133</text><circle class="w" cx="277.5" r="8.7"/><text x="277.5">132</text><circle class="w" cx="296" r="8.7"/><text x="296">134</text></g>
<g transform="translate(0,129.5)"><circle class="k" cx="37" r="8.7"/><text x="37">195</text><circle class="k" cx="55.5" r="8.7"/><text x="55.5">193</text><circle class="w" cx="74" r="8.7"/><text x="74">196</text><circle class="w" cx="92.5" r="8.7"/><text x="92.5">126</text><circle class="w" cx="111" r="8.7"/><text x="111">178</text><circle class="k" cx="129.5" r="8.7"/><text x="129.5">101</text><circle class="w" cx="148" r="8.7"/><text x="148">100</text><circle class="w" cx="166.5" r="8.7"/><text x="166.5">230</text><circle class="w" cx="185" r="8.7"/><text x="185">232</text><circle class="k" cx="203.5" r="8.7"/><text x="203.5">233</text><circle class="k" cx="222" r="8.7"/><text x="222">231</text><circle class="w" cx="240.5" r="8.7"/><text x="240.5">138</text><circle class="k" cx="259" r="8.7"/><text x="259">183</text><circle class="k" cx="277.5" r="8.7"/><text x="277.5">227</text><circle class="w" cx="296" r="8.7"/><text x="296">228</text><circle class="w" cx="314.5" r="8.7"/><text x="314.5">216</text><circle class="w" cx="333" r="8.7"/><text x="333">242</text></g>
<g transform="translate(0,148)"><circle class="k" cx="37" r="8.7"/><text x="37">79</text><circle class="w" cx="55.5" r="8.7"/><text x="55.5">190</text><circle class="w" cx="74" r="8.7"/><text x="74">208</text><circle class="k" cx="92.5" r="8.7"/><text x="92.5">207</text><circle class="k" cx="111" r="8.7"/><text x="111">177</text><circle class="k" cx="129.5" r="8.7"/><text x="129.5">179</text><circle class="w" cx="148" r="8.7"/><text x="148">102</text><circle class="k" cx="166.5" r="8.7"/><text x="166.5">83</text><circle class="k" cx="185" r="8.7"/><text x="185">85</text><circle class="k" cx="222" r="8.7"/><text x="222">143</text><circle class="w" cx="240.5" r="8.7"/><text x="240.5">144</text><circle class="w" cx="259" r="8.7"/><text x="259">184</text><circle class="w" cx="277.5" r="8.7"/><text x="277.5">74</text><circle class="w" cx="296" r="8.7"/><text x="296">136</text><circle class="k" cx="314.5" r="8.7"/><text x="314.5">215</text><circle class="w" cx="333" r="8.7"/><text x="333">240</text></g>
<g transform="translate(0,166.5)"><circle class="k" cx="18.5" r="8.7"/><text x="18.5">77</text><circle class="k" cx="37" r="8.7"/><text x="37">201</text><circle class="w" cx="55.5" r="8.7"/><text x="55.5">10</text><circle class="w" cx="92.5" r="8.7"/><text x="92.5">180</text><circle class="w" cx="111" r="8.7"/><text x="111">250</text><circle class="w" cx="129.5" r="8.7"/><text x="129.5">78</text><circle class="w" cx="148" r="8.7"/><text x="148">84</text><circle class="w" cx="166.5" r="8.7"/><text x="166.5">80</text><circle class="k" cx="185" r="8.7"/><text x="185">65</text><circle class="k" cx="222" r="8.7"/><text x="222">51</text><circle class="w" cx="240.5" r="8.7"/><text x="240.5">142</text><circle class="w" cx="259" r="8.7"/><text x="259">210</text><circle class="k" cx="277.5" r="8.7"/><text x="277.5">141</text><circle class="k" cx="296" r="8.7"/><text x="296">135</text><circle class="k" cx="314.5" r="8.7"/><text x="314.5">137</text><circle class="k" cx="333" r="8.7"/><text x="333">241</text></g>
<g transform="translate(0,185)"><circle class="k" cx="0" r="8.7"/><text x="0">203</text><circle class="w" cx="18.5" r="8.7"/><text x="18.5">200</text><circle class="w" cx="37" r="8.7"/><text x="37">150</text><circle class="w" cx="55.5" r="8.7"/><text x="55.5">202</text><circle class="w" cx="74" r="8.7"/><text x="74">42</text><circle class="w" cx="111" r="8.7"/><text x="111">82</text><circle class="k" cx="129.5" r="8.7"/><text x="129.5">81</text><circle class="k" cx="148" r="8.7"/><text x="148">235</text><circle class="w" cx="166.5" r="8.7"/><text x="166.5">62</text><circle class="k" cx="185" r="8.7"/><text x="185">49</text><circle class="k" cx="203.5" r="8.7"/><text x="203.5">149</text><circle class="w" cx="222" r="8.7"/><text x="222">148</text><circle class="w" cx="277.5" r="8.7"/><text x="277.5">66</text><circle class="w" cx="296" r="8.7"/><text x="296">146</text><circle class="k" cx="314.5" r="8.7"/><text x="314.5">147</text></g>
<g transform="translate(0,203.5)"><circle class="k" cx="18.5" r="8.7"/><text x="18.5">153</text><circle class="k" cx="37" r="8.7"/><text x="37">41</text><circle class="k" cx="55.5" r="8.7"/><text x="55.5">185</text><circle class="w" cx="74" r="8.7"/><text x="74">50</text><circle class="w" cx="111" r="8.7"/><text x="111">64</text><circle class="w" cx="129.5" r="8.7"/><text x="129.5">234</text><circle class="k" cx="148" r="8.7"/><text x="148">61</text><circle class="w" cx="166.5" r="8.7"/><text x="166.5">54</text><circle class="w" cx="222" r="8.7"/><text x="222">40</text><circle class="w" cx="277.5" r="8.7"/><text x="277.5">214</text><circle class="k" cx="296" r="8.7"/><text x="296">213</text><circle class="k" cx="314.5" r="8.7"/><text x="314.5">73</text></g>
<g transform="translate(0,222)"><circle class="w" cx="55.5" r="8.7"/><text x="55.5">44</text><circle class="k" cx="74" r="8.7"/><text x="74">43</text><circle class="w" cx="92.5" r="8.7"/><text x="92.5">46</text><circle class="w" cx="129.5" r="8.7"/><text x="129.5">58</text><circle class="k" cx="148" r="8.7"/><text x="148">57</text><circle class="k" cx="166.5" r="8.7"/><text x="166.5">63</text><circle class="k" cx="185" r="8.7"/><text x="185">39</text><circle class="k" cx="203.5" r="8.7"/><text x="203.5">55</text><circle class="w" cx="222" r="8.7"/><text x="222">56</text><circle class="w" cx="277.5" r="8.7"/><text x="277.5">72</text><circle class="w" cx="296" r="8.7"/><text x="296">68</text><circle class="k" cx="314.5" r="8.7"/><text x="314.5">71</text></g>
<g transform="translate(0,240.5)"><circle class="k" cx="37" r="8.7"/><text x="37">11</text><circle class="k" cx="55.5" r="8.7"/><text x="55.5">45</text><circle class="k" cx="74" r="8.7"/><text x="74">53</text><circle class="k" cx="92.5" r="8.7"/><text x="92.5">225</text><circle class="w" cx="111" r="8.7"/><text x="111">226</text><circle class="w" cx="129.5" r="8.7"/><text x="129.5">24</text><circle class="w" cx="148" r="8.7"/><text x="148">26</text><circle class="k" cx="166.5" r="8.7"/><text x="166.5">37</text><circle class="w" cx="203.5" r="8.7"/><text x="203.5">38</text><circle class="w" cx="222" r="8.7"/><text x="222">60</text><circle class="k" cx="240.5" r="8.7"/><text x="240.5">59</text><circle class="w" cx="277.5" r="8.7"/><text x="277.5">52</text><circle class="k" cx="296" r="8.7"/><text x="296">67</text></g>
<g transform="translate(0,259)"><circle class="k" cx="18.5" r="8.7"/><text x="18.5">237</text><circle class="w" cx="37" r="8.7"/><text x="37">236</text><circle class="k" cx="74" r="8.7"/><text x="74">47</text><circle class="w" cx="92.5" r="8.7"/><text x="92.5">14</text><circle class="w" cx="111" r="8.7"/><text x="111">20</text><circle class="k" cx="129.5" r="8.7"/><text x="129.5">23</text><circle class="k" cx="148" r="8.7"/><text x="148">25</text><circle class="k" cx="166.5" r="8.7"/><text x="166.5">27</text><circle class="w" cx="185" r="8.7"/><text x="185">224</text><circle class="w" cx="259" r="8.7"/><text x="259">212</text><circle class="k" cx="277.5" r="8.7"/><text x="277.5">211</text><circle class="k" cx="296" r="8.7"/><text x="296">69</text></g>
<g transform="translate(0,277.5)"><circle class="k" cx="18.5" r="8.7"/><text x="18.5">19</text><circle class="w" cx="37" r="8.7"/><text x="37">18</text><circle class="w" cx="55.5" r="8.7"/><text x="55.5">2</text><circle class="w" cx="74" r="8.7"/><text x="74">48</text><circle class="w" cx="92.5" r="8.7"/><text x="92.5">12</text><circle class="k" cx="111" r="8.7"/><text x="111">13</text><circle class="w" cx="148" r="8.7"/><text x="148">248</text><circle class="k" cx="166.5" r="8.7"/><text x="166.5">247</text><circle class="w" cx="203.5" r="8.7"/><text x="203.5">36</text><circle class="w" cx="222" r="8.7"/><text x="222">34</text><circle class="w" cx="240.5" r="8.7"/><text x="240.5">92</text><circle class="w" cx="259" r="8.7"/><text x="259">116</text><circle class="k" cx="277.5" r="8.7"/><text x="277.5">3</text></g>
<g transform="translate(0,296)"><circle class="k" cx="37" r="8.7"/><text x="37">15</text><circle class="w" cx="55.5" r="8.7"/><text x="55.5">218</text><circle class="w" cx="74" r="8.7"/><text x="74">16</text><circle class="k" cx="92.5" r="8.7"/><text x="92.5">9</text><circle class="k" cx="111" r="8.7"/><text x="111">17</text><circle class="k" cx="129.5" r="8.7"/><text x="129.5">33</text><circle class="w" cx="148" r="8.7"/><text x="148">30</text><circle class="w" cx="166.5" r="8.7"/><text x="166.5">32</text><circle class="w" cx="185" r="8.7"/><text x="185">28</text><circle class="w" cx="203.5" r="8.7"/><text x="203.5">206</text><circle class="k" cx="222" r="8.7"/><text x="222">29</text><circle class="k" cx="240.5" r="8.7"/><text x="240.5">35</text><circle class="w" cx="259" r="8.7"/><text x="259">104</text><circle class="k" cx="277.5" r="8.7"/><text x="277.5">105</text></g>
<g transform="translate(0,314.5)"><circle class="k" cx="18.5" r="8.7"/><text x="18.5">21</text><circle class="k" cx="37" r="8.7"/><text x="37">209</text><circle class="w" cx="55.5" r="8.7"/><text x="55.5">22</text><circle class="k" cx="74" r="8.7"/><text x="74">217</text><circle class="k" cx="92.5" r="8.7"/><text x="92.5">107</text><circle class="k" cx="148" r="8.7"/><text x="148">103</text><circle class="k" cx="166.5" r="8.7"/><text x="166.5">31</text><circle class="k" cx="185" r="8.7"/><text x="185">121</text><circle class="w" cx="203.5" r="8.7"/><text x="203.5">130</text><circle class="w" cx="259" r="8.7"/><text x="259">106</text><circle class="k" cx="277.5" r="8.7"/><text x="277.5">115</text><circle class="k" cx="296" r="8.7"/><text x="296">163</text></g>
<g transform="translate(0,333)"><circle class="k" cx="55.5" r="8.7"/><text x="55.5">219</text><circle class="k" cx="185" r="8.7"/><text x="185">197</text><circle class="k" cx="203.5" r="8.7"/><text x="203.5">221</text><circle class="w" cx="222" r="8.7"/><text x="222">222</text><circle class="w" cx="259" r="8.7"/><text x="259">162</text><circle class="w" cx="277.5" r="8.7"/><text x="277.5">160</text><circle class="k" cx="296" r="8.7"/><text x="296">161</text></g>
</g>
</g>

<g id="game4" transform="translate(431.5,579)">
<use href="#grid"/><use href="#hoshi"/>
<g class="st">
<g transform="translate(0,0)"><circle class="w" cx="240.5" r="8.7"/><text x="240.5">62</text><circle class="w" cx="314.5" r="8.7"/><text x="314.5">56</text></g>
<g transform="translate(0,18.5)"><circle class="w" cx="222" r="8.7"/><text x="222">58</text><circle class="k" cx="240.5" r="8.7"/><text x="240.5">57</text><circle class="w" cx="259" r="8.7"/><text x="259">60</text><circle class="k" cx="277.5" r="8.7"/><text x="277.5">55</text><circle class="k" cx="296" r="8.7"/><text x="296">53</text><circle class="w" cx="314.5" r="8.7"/><text x="314.5">54</text></g>
<g transform="translate(0,37)"><circle class="w" cx="111" r="8.7"/><text x="111">26</text><circle class="w" cx="148" r="8.7"/><text x="148">34</text><circle class="k" cx="185" r="8.7"/><text x="185">21</text><circle class="k" cx="203.5" r="8.7"/><text x="203.5">17</text><circle class="k" cx="222" r="8.7"/><text x="222">59</text><circle class="w" cx="240.5" r="8.7"/><text x="240.5">16</text><circle class="k" cx="277.5" r="8.7"/><text x="277.5">51</text><circle class="w" cx="296" r="8.7"/><text x="296">50</text></g>
<g transform="translate(0,55.5)"><circle class="w" cx="55.5" r="8.7"/><text x="55.5">4</text><circle class="k" cx="185" r="8.7"/><text x="185">19</text><circle class="w" cx="203.5" r="8.7"/><text x="203.5">18</text><circle class="w" cx="222" r="8.7"/><text x="222">64</text><circle class="k" cx="240.5" r="8.7"/><text x="240.5">61</text><circle class="k" cx="259" r="8.7"/><text x="259">63</text><circle class="k" cx="277.5" r="8.7"/><text x="277.5">1</text><circle class="w" cx="296" r="8.7"/><text x="296">52</text></g>
<g transform="translate(0,74)"><circle class="k" cx="148" r="8.7"/><text x="148">35</text><circle class="k" cx="185" r="8.7"/><text x="185">27</text><circle class="w" cx="203.5" r="8.7"/><text x="203.5">20</text><circle class="w" cx="222" r="8.7"/><text x="222">68</text><circle class="w" cx="240.5" r="8.7"/><text x="240.5">66</text><circle class="w" cx="259" r="8.7"/><text x="259">22</text><circle class="k" cx="277.5" r="8.7"/><text x="277.5">23</text></g>
<g transform="translate(0,92.5)"><circle class="w" cx="203.5" r="8.7"/><text x="203.5">28</text><circle class="k" cx="240.5" r="8.7"/><text x="240.5">65</text><circle class="w" cx="259" r="8.7"/><text x="259">24</text><circle class="k" cx="277.5" r="8.7"/><text x="277.5">45</text><circle class="w" cx="296" r="8.7"/><text x="296">44</text><circle class="w" cx="314.5" r="8.7"/><text x="314.5">48</text></g>
<g transform="translate(0,111)"><circle class="k" cx="166.5" r="8.7"/><text x="166.5">29</text><circle class="k" cx="203.5" r="8.7"/><text x="203.5">69</text><circle class="k" cx="259" r="8.7"/><text x="259">67</text><circle class="w" cx="277.5" r="8.7"/><text x="277.5">46</text><circle class="k" cx="296" r="8.7"/><text x="296">25</text><circle class="k" cx="314.5" r="8.7"/><text x="314.5">47</text></g>
<g transform="translate(0,129.5)"><circle class="w" cx="277.5" r="8.7"/><text x="277.5">30</text><circle class="k" cx="296" r="8.7"/><text x="296">31</text><circle class="w" cx="314.5" r="8.7"/><text x="314.5">42</text><circle class="k" cx="333" r="8.7"/><text x="333">49</text></g>
<g transform="translate(0,148)"><circle class="w" cx="277.5" r="8.7"/><text x="277.5">32</text><circle class="w" cx="296" r="8.7"/><text x="296">40</text><circle class="k" cx="314.5" r="8.7"/><text x="314.5">41</text></g>
<g transform="translate(0,166.5)"><circle class="w" cx="277.5" r="8.7"/><text x="277.5">36</text><circle class="k" cx="296" r="8.7"/><text x="296">33</text><circle class="k" cx="314.5" r="8.7"/><text x="314.5">43</text></g>
<g transform="translate(0,185)"><circle class="w" cx="277.5" r="8.7"/><text x="277.5">38</text><circle class="k" cx="296" r="8.7"/><text x="296">37</text></g>
<g transform="translate(0,203.5)"><circle class="k" cx="277.5" r="8.7"/><text x="277.5">39</text></g>
<g transform="translate(0,240.5)"><circle class="k" cx="37" r="8.7"/><text x="37">15</text></g>
<g transform="translate(0,259)"><circle class="w" cx="55.5" r="8.7"/><text x="55.5">10</text></g>
<g transform="translate(0,277.5)"><circle class="k" cx="37" r="8.7"/><text x="37">9</text><circle class="w" cx="55.5" r="8.7"/><text x="55.5">2</text><circle class="k" cx="277.5" r="8.7"/><text x="277.5">3</text></g>
<g transform="translate(0,296)"><circle class="k" cx="37" r="8.7"/><text x="37">7</text><circle class="w" cx="55.5" r="8.7"/><text x="55.5">8</text><circle class="w" cx="74" r="8.7"/><text x="74">14</text><circle class="k" cx="92.5" r="8.7"/><text x="92.5">5</text><circle class="w" cx="129.5" r="8.7"/><text x="129.5">6</text></g>
<g transform="translate(0,314.5)"><circle class="k" cx="37" r="8.7"/><text x="37">13</text><circle class="k" cx="55.5" r="8.7"/><text x="55.5">11</text><circle class="w" cx="74" r="8.7"/><text x="74">12</text></g>
</g>
</g>

<g id="captions">
<text class="t m" x="236" y="452">Game 1</text>
<text class="t m" x="236" y="471">Cho Chikun (B) vs Yoda Norimoto (W), 1995-01-12</text>
<text class="t m" x="236" y="489">128 at 74, 129 at 77, 194 at 188, 197 at 191, 200 at</text>
<text class="t m" x="236" y="507">188, 203 at 191, 206 at 188, 209 at 191, 214 at 188,</text>
<text class="t m" x="236" y="525">222 at 99, 227 at 191, 229 at 176, 230 at 188, 235 at</text>
<text class="t m" x="236" y="543">81, 237 at 170, 244 at 191</text>
<text class="t m" x="598" y="452">Game 2</text>
<text class="t m" x="598" y="471">Cho Chikun (B) vs Kobayashi Satoru (W),</text>
<text class="t m" x="598" y="489">1995-01-18,19</text>
<text class="t m" x="598" y="507">144 at 124</text>
<text class="t m" x="236" y="935">Game 3</text>
<text class="t m" x="236" y="954">Cho Chikun (B) vs Kato Masao (W), 1995-01-26</text>
<text class="t m" x="598" y="935">Game 4</text>
<text class="t m" x="598" y="954">Kobayashi Satoru (B) vs Cho Chikun (W),</text>
<text class="t m" x="598" y="972">1995-02-01,02</text>
</g>

<g id="footer">
<line class="rule" x1="60" y1="1113.5" x2="777" y2="1113.5"/>
<text class="t" x="60" y="1137">Page 1</text>
<text class="t e" x="777" y="1137">19/10/2004</text>
</g>
</svg>
